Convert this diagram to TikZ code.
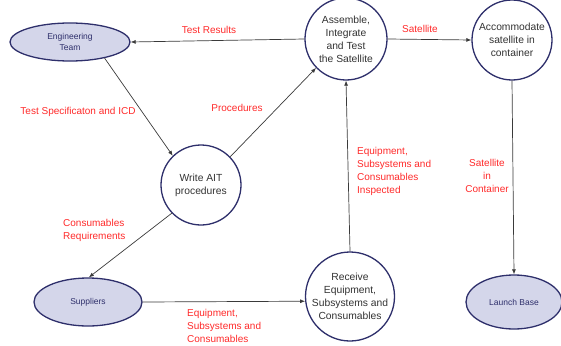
\documentclass[tikz,border=0pt]{standalone}
\usepackage{fontspec}
\setmainfont{Liberation Sans}
\usetikzlibrary{shapes.geometric,arrows.meta}
\definecolor{navy}{HTML}{2E2F6B}
\definecolor{lav}{HTML}{D4D6EA}
\definecolor{lblred}{HTML}{FF2A2A}
\definecolor{edgegray}{HTML}{3A3A3A}
\tikzset{
  party/.style={ellipse, draw=navy, line width=1.3pt, fill=lav, inner sep=0pt,
    text=navy, font=\fontsize{8.5}{10.5}\selectfont, align=center},
  activity/.style={circle, draw=navy, line width=1.3pt, fill=white, inner sep=0pt,
    text=black!80, font=\fontsize{10.3}{12.9}\selectfont, align=center},
  flow/.style={draw=edgegray, line width=0.7pt, -{Latex[length=5pt,width=4pt]}},
  flowlabel/.style={text=lblred, font=\fontsize{10}{13}\selectfont, inner sep=0pt}
}
\begin{document}
\begin{tikzpicture}[x=1pt,y=-1pt]
\useasboundingbox (0,0) rectangle (561,345);

% parties
\node[party, minimum width=120pt, minimum height=38pt] (eng) at (70,42) {Engineering\\Team};
\node[party, minimum width=108pt, minimum height=48pt] (sup) at (88,302) {Suppliers};
\node[party, minimum width=96pt, minimum height=54pt] (lb) at (514,302) {Launch Base};

% activities
\node[activity, minimum size=82pt] (asm) at (346,39) {Assemble,\\Integrate\\and Test\\the Satellite};
\node[activity, minimum size=80pt] (acc) at (512,40) {Accommodate\\satellite in\\container};
\node[activity, minimum size=80pt] (ait) at (201,185) {Write AIT\\procedures};
\node[activity, minimum size=86pt] (rcv) at (350,296.5) {Receive\\Equipment,\\Subsystems and\\Consumables};

% flows
\draw[flow] (asm.west) -- (eng.east);
\draw[flow] (asm.east) -- (acc.west);
\draw[flow] (eng.-25) -- (ait.134);
\draw[flow] (ait.44) -- (asm.224);
\draw[flow] (ait.224) -- (sup.88);
\draw[flow] (sup.east) -- (rcv.186);
\draw[flow] (rcv.north) -- (asm.south);
\draw[flow] (acc.south) -- (lb.north);

% flow labels
\node[flowlabel] (lTR) at (209,30) {Test Results};
\node[flowlabel] (lSat) at (420,29) {Satellite};
\node[flowlabel] (lSpec) at (78,112) {Test Specificaton and ICD};
\node[flowlabel] (lProc) at (237,108) {Procedures};
\node[flowlabel, anchor=west, align=left] (lCons) at (63,230.5) {Consumables\\Requirements};
\node[flowlabel, anchor=west, align=left] (lInsp) at (357,171.5) {Equipment,\\Subsystems and\\Consumables\\Inspected};
\node[flowlabel, align=center] (lCont) at (487,176) {Satellite\\in\\Container};
\node[flowlabel, anchor=west, align=left] (lEq) at (187,326) {Equipment,\\Subsystems and\\Consumables};
\end{tikzpicture}
\end{document}
